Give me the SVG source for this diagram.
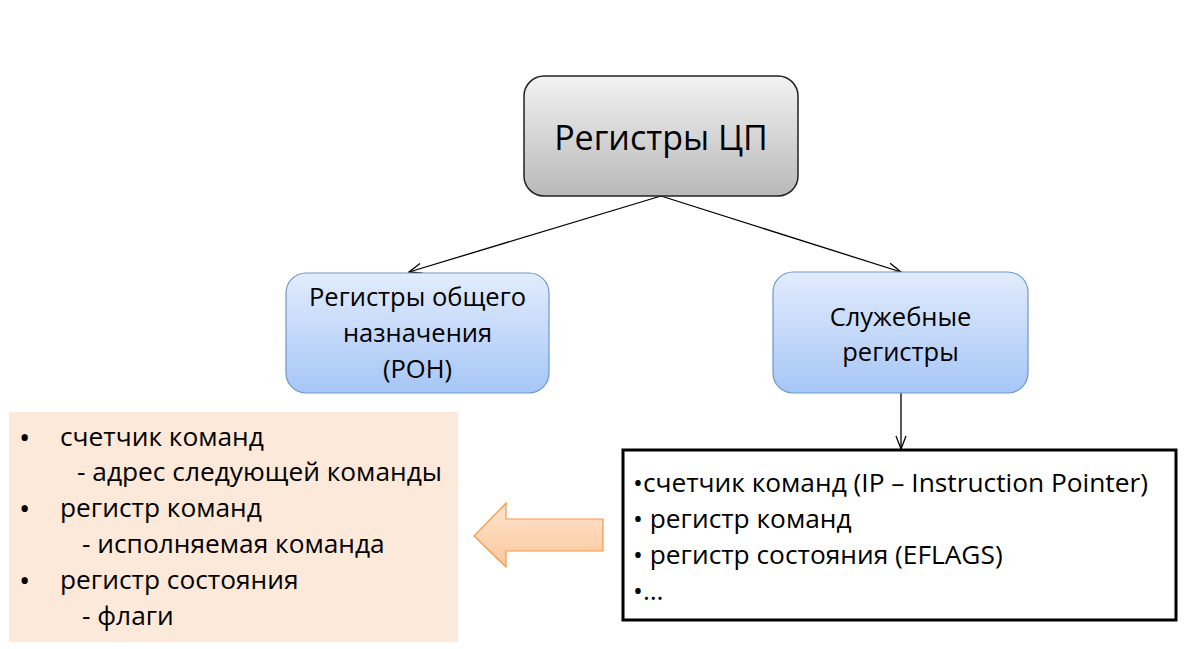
<svg xmlns="http://www.w3.org/2000/svg" width="1203" height="649" viewBox="0 0 1203 649">
<style>
text{font-family:"Open Sans","Noto Sans","DejaVu Sans",sans-serif;fill:#000}
.t{font-size:25.5px}
.n{font-size:26.3px}
.b{font-size:30px}
.c{text-anchor:middle}
.conn{stroke:#000;stroke-width:1.3;fill:none;marker-end:url(#ah)}
</style>
<defs>
<linearGradient id="gGray" x1="0" y1="0" x2="0" y2="1"><stop offset="0" stop-color="#f2f2f2"/><stop offset="1" stop-color="#b9b9b9"/></linearGradient>
<linearGradient id="gBlue" x1="0" y1="0" x2="0" y2="1"><stop offset="0" stop-color="#e2ecfd"/><stop offset="1" stop-color="#a6c6f6"/></linearGradient>
<linearGradient id="gPeach" x1="0" y1="0" x2="0" y2="1"><stop offset="0" stop-color="#fee4cf"/><stop offset="1" stop-color="#fcc79b"/></linearGradient>
<marker id="ah" markerWidth="16" markerHeight="12" refX="14" refY="6" orient="auto" markerUnits="userSpaceOnUse"><path d="M1,1 L14,6 L1,11" fill="none" stroke="#000" stroke-width="1.3"/></marker>
</defs>
<rect width="1203" height="649" fill="#fff"/>
<g id="connectors">
<line class="conn" x1="661" y1="196" x2="409" y2="272"/>
<line class="conn" x1="661" y1="196" x2="901" y2="272"/>
<line class="conn" x1="901" y1="393" x2="901" y2="449"/>
</g>
<g id="root">
<rect x="524" y="76" width="274" height="120" rx="20" fill="url(#gGray)" stroke="#222" stroke-width="1.5"/>
<text class="c" x="661" y="150" font-size="34">Регистры ЦП</text>
</g>
<g id="ron">
<rect x="286" y="273" width="263" height="120" rx="20" fill="url(#gBlue)" stroke="#6f97cc" stroke-width="1.2"/>
<text class="c t" x="417.5" y="306">Регистры общего</text>
<text class="c t" x="417.5" y="342">назначения</text>
<text class="c t" x="417.5" y="378">(РОН)</text>
</g>
<g id="service">
<rect x="773" y="272" width="255" height="121" rx="20" fill="url(#gBlue)" stroke="#6f97cc" stroke-width="1.2"/>
<text class="c t" x="900.5" y="326">Служебные</text>
<text class="c t" x="900.5" y="361">регистры</text>
</g>
<g id="list">
<rect x="623" y="450" width="553" height="170" fill="#fff" stroke="#000" stroke-width="3"/>
<text class="n" x="633" y="492">•счетчик команд (IP – Instruction Pointer)</text>
<text class="n" x="633" y="528">• регистр команд</text>
<text class="n" x="633" y="564">• регистр состояния (EFLAGS)</text>
<text class="n" x="633" y="600">•…</text>
</g>
<g id="arrow">
<path d="M603,519 L506,519 L506,503 L474,536 L506,567 L506,551 L603,551 Z" fill="url(#gPeach)" stroke="#f79646" stroke-width="1.2"/>
</g>
<g id="notes">
<rect x="9" y="412" width="449" height="230" fill="#fde9d9"/>
<text class="b" x="19" y="448">•</text>
<text class="n" x="60" y="446">счетчик команд</text>
<text class="n" x="77" y="481">- адрес следующей команды</text>
<text class="b" x="19" y="519">•</text>
<text class="n" x="60" y="517">регистр команд</text>
<text class="n" x="82" y="553">- исполняемая команда</text>
<text class="b" x="19" y="591">•</text>
<text class="n" x="60" y="589">регистр состояния</text>
<text class="n" x="82" y="625">- флаги</text>
</g>
</svg>
